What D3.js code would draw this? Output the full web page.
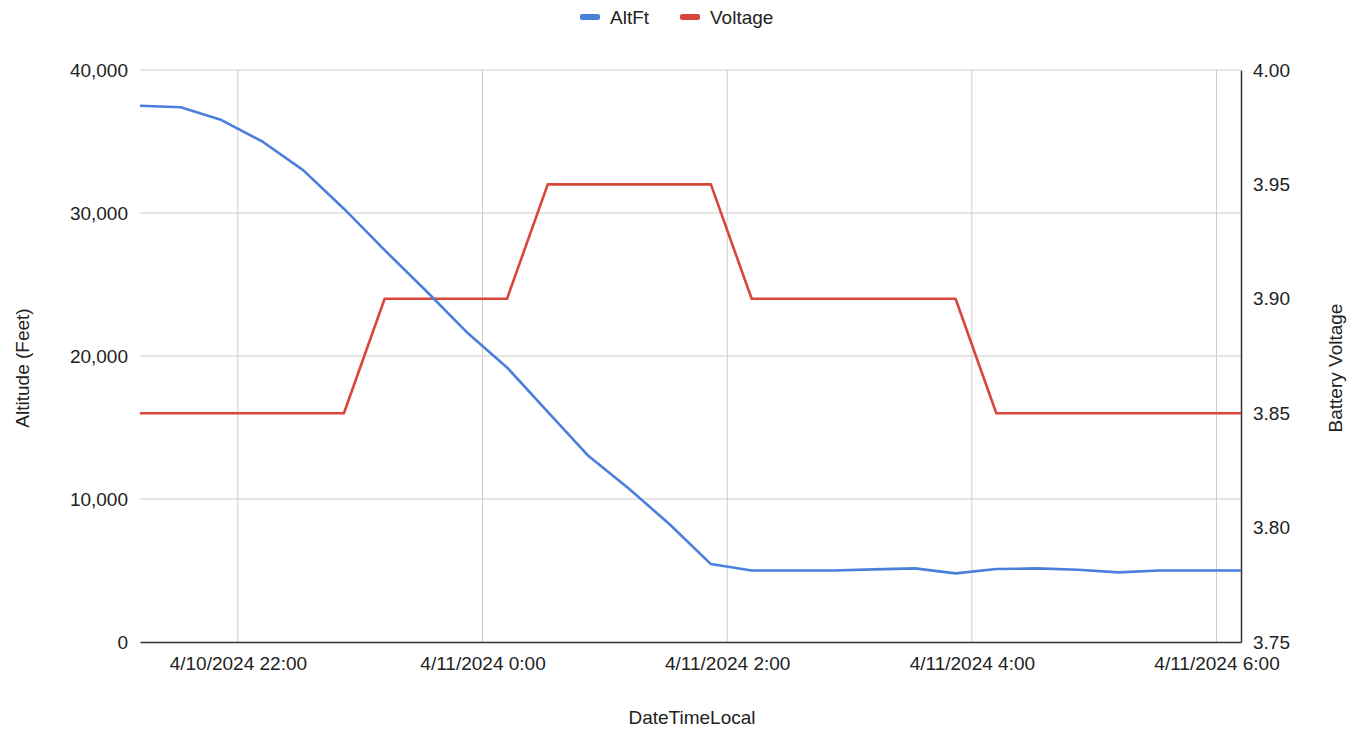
<!DOCTYPE html>
<html>
<head>
<meta charset="utf-8">
<script src="https://cdn.jsdelivr.net/npm/d3@7"></script>
<style>
  html, body { margin: 0; padding: 0; background: #fff; }
  svg { display: block; font-family: "Liberation Sans", Arial, sans-serif; }
</style>
</head>
<body>
<svg id="chart" width="1352" height="729"></svg>
<script>
// Balloon telemetry, sampled every 20 minutes (local time)
const times = [
  "2024-04-10T21:12", "2024-04-10T21:32", "2024-04-10T21:52", "2024-04-10T22:12",
  "2024-04-10T22:32", "2024-04-10T22:52", "2024-04-10T23:12", "2024-04-10T23:32",
  "2024-04-10T23:52", "2024-04-11T00:12", "2024-04-11T00:32", "2024-04-11T00:52",
  "2024-04-11T01:12", "2024-04-11T01:32", "2024-04-11T01:52", "2024-04-11T02:12",
  "2024-04-11T02:32", "2024-04-11T02:52", "2024-04-11T03:12", "2024-04-11T03:32",
  "2024-04-11T03:52", "2024-04-11T04:12", "2024-04-11T04:32", "2024-04-11T04:52",
  "2024-04-11T05:12", "2024-04-11T05:32", "2024-04-11T05:52", "2024-04-11T06:12"
];
const altFt = [
  37500, 37400, 36500, 35000, 33000, 30300, 27400, 24600,
  21700, 19200, 16100, 13000, 10700, 8200, 5450, 5000,
  5000, 5000, 5080, 5150, 4800, 5100, 5150, 5050,
  4870, 5000, 5000, 5000
];
const voltage = [
  3.85, 3.85, 3.85, 3.85, 3.85, 3.85, 3.90, 3.90,
  3.90, 3.90, 3.95, 3.95, 3.95, 3.95, 3.95, 3.90,
  3.90, 3.90, 3.90, 3.90, 3.90, 3.85, 3.85, 3.85,
  3.85, 3.85, 3.85, 3.85
];
const altTicks = [0, 10000, 20000, 30000, 40000];
const voltTicks = [3.75, 3.80, 3.85, 3.90, 3.95, 4.00];
const timeTicks = ["2024-04-10T22:00", "2024-04-11T00:00", "2024-04-11T02:00", "2024-04-11T04:00", "2024-04-11T06:00"];
const seriesNames = ["AltFt", "Voltage"];
const seriesColors = ["#4a7fdc", "#d9473b"];

const parse = d3.timeParse("%Y-%m-%dT%H:%M");
const rows = times.map((t, i) => ({ t: parse(t), alt: altFt[i], v: voltage[i] }));
const tickDates = timeTicks.map(parse);

const svg = d3.select("#chart");
const m = { left: 140, right: 1241, top: 70, bottom: 642 };

const x = d3.scaleTime().domain(d3.extent(rows, d => d.t)).range([m.left, m.right]);
const yL = d3.scaleLinear().domain([0, 40000]).range([m.bottom, m.top]);
const yR = d3.scaleLinear().domain([3.75, 4.00]).range([m.bottom, m.top]);

const textColor = "#222";
const fs = 19;
const fmtTime = d => `${d.getMonth() + 1}/${d.getDate()}/${d.getFullYear()} ${d.getHours()}:${d3.timeFormat("%M")(d)}`;

// horizontal gridlines (left axis)
svg.append("g")
  .selectAll("line").data(altTicks.filter(v => v > 0)).join("line")
  .attr("x1", m.left).attr("x2", m.right)
  .attr("y1", d => yL(d)).attr("y2", d => yL(d))
  .attr("stroke", "#cccccc").attr("stroke-width", 1);

// vertical gridlines at time ticks
svg.append("g")
  .selectAll("line").data(tickDates).join("line")
  .attr("x1", d => x(d)).attr("x2", d => x(d))
  .attr("y1", m.top).attr("y2", m.bottom)
  .attr("stroke", "#cccccc").attr("stroke-width", 1);

// left axis labels
const axL = svg.append("g").attr("transform", `translate(${m.left},0)`)
  .call(d3.axisLeft(yL).tickValues(altTicks).tickSize(0).tickPadding(12).tickFormat(d3.format(",")));
axL.select(".domain").remove();
axL.selectAll("text").attr("fill", textColor).attr("font-size", fs).attr("font-family", "Liberation Sans, Arial");

// right axis
const axR = svg.append("g").attr("transform", `translate(${m.right},0)`)
  .call(d3.axisRight(yR).tickValues(voltTicks).tickSize(0).tickPadding(12).tickFormat(d3.format(".2f")));
axR.select(".domain").attr("stroke", "#333").attr("stroke-width", 1.5);
axR.selectAll("text").attr("fill", textColor).attr("font-size", fs).attr("font-family", "Liberation Sans, Arial");

// bottom axis
const axB = svg.append("g").attr("transform", `translate(0,${m.bottom})`)
  .call(d3.axisBottom(x).tickValues(tickDates).tickSize(0).tickPadding(15).tickFormat(fmtTime));
axB.select(".domain").attr("stroke", "#333").attr("stroke-width", 1.5);
axB.selectAll("text").attr("fill", textColor).attr("font-size", fs).attr("font-family", "Liberation Sans, Arial");

// series lines
const lineAlt = d3.line().x(d => x(d.t)).y(d => yL(d.alt));
const lineV = d3.line().x(d => x(d.t)).y(d => yR(d.v));
svg.append("path").datum(rows).attr("d", lineV)
  .attr("fill", "none").attr("stroke", seriesColors[1]).attr("stroke-width", 2.6).attr("stroke-linejoin", "round");
svg.append("path").datum(rows).attr("d", lineAlt)
  .attr("fill", "none").attr("stroke", seriesColors[0]).attr("stroke-width", 2.6).attr("stroke-linejoin", "round");

// axis titles
svg.append("text").attr("transform", "translate(29,368) rotate(-90)")
  .attr("text-anchor", "middle").attr("font-size", fs).attr("fill", textColor).text("Altitude (Feet)");
svg.append("text").attr("transform", "translate(1342,368) rotate(-90)")
  .attr("text-anchor", "middle").attr("font-size", fs).attr("fill", textColor).text("Battery Voltage");
svg.append("text").attr("x", 692).attr("y", 724)
  .attr("text-anchor", "middle").attr("font-size", fs).attr("fill", textColor).text("DateTimeLocal");

// legend
const legend = svg.append("g");
const legX = [580, 680];
seriesNames.forEach((name, i) => {
  legend.append("rect").attr("x", legX[i]).attr("y", 14).attr("width", 20).attr("height", 6).attr("rx", 2)
    .attr("fill", seriesColors[i]);
  legend.append("text").attr("x", legX[i] + 30).attr("y", 24).attr("font-size", fs).attr("fill", textColor).text(name);
});
</script>
</body>
</html>
